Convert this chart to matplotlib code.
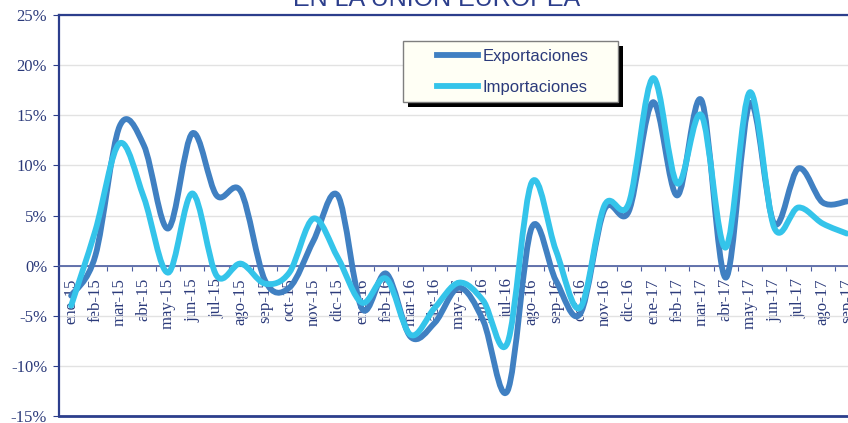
import matplotlib
matplotlib.use('Agg')
import matplotlib.pyplot as plt
from matplotlib.path import Path
from matplotlib.patches import PathPatch, Rectangle
from matplotlib.lines import Line2D

MESES = ['ene-15', 'feb-15', 'mar-15', 'abr-15', 'may-15', 'jun-15', 'jul-15', 'ago-15',
         'sep-15', 'oct-15', 'nov-15', 'dic-15',
         'ene-16', 'feb-16', 'mar-16', 'abr-16', 'may-16', 'jun-16', 'jul-16', 'ago-16',
         'sep-16', 'oct-16', 'nov-16', 'dic-16',
         'ene-17', 'feb-17', 'mar-17', 'abr-17', 'may-17', 'jun-17', 'jul-17', 'ago-17',
         'sep-17']
EXPORTACIONES = [-3.0, 1.0, 13.9, 12.0, 3.7, 13.2, 7.0, 7.4, -1.5, -2.2, 2.5, 7.0,
                 -4.3, -0.8, -7.1, -5.7, -2.2, -5.5, -12.5, 3.8, -1.5, -4.8, 5.6, 5.4,
                 16.3, 7.0, 16.5, -1.2, 16.2, 4.2, 9.7, 6.3, 6.4]
IMPORTACIONES = [-4.0, 3.5, 12.2, 6.8, -0.7, 7.2, -1.0, 0.2, -1.8, -0.7, 4.7, 0.8,
                 -3.7, -1.3, -6.9, -4.2, -1.7, -3.5, -7.7, 8.3, 1.5, -4.2, 6.0, 6.2,
                 18.7, 8.2, 15.0, 1.8, 17.3, 3.8, 5.8, 4.2, 3.2]
Y_TICKS = [-15, -10, -5, 0, 5, 10, 15, 20, 25]
SERIES = ['Exportaciones', 'Importaciones']

NAVY = '#2C3E8C'
TXT = '#2B3A7A'
C_EXP = '#4080C2'
C_IMP = '#34C4EA'

W, H = 848, 423
plt.rcParams['font.family'] = ['Liberation Serif', 'DejaVu Serif']


def smooth_path(ys):
    # excel-like smoothed line: catmull-rom turned into cubic bezier segments
    xs = list(range(len(ys)))
    pts = list(zip(xs, ys))
    verts = [pts[0]]
    codes = [Path.MOVETO]
    n = len(pts)
    for i in range(n - 1):
        p0 = pts[i - 1] if i > 0 else pts[i]
        p1 = pts[i]
        p2 = pts[i + 1]
        p3 = pts[i + 2] if i + 2 < n else pts[i + 1]
        c1 = (p1[0] + (p2[0] - p0[0]) / 6, p1[1] + (p2[1] - p0[1]) / 6)
        c2 = (p2[0] - (p3[0] - p1[0]) / 6, p2[1] - (p3[1] - p1[1]) / 6)
        verts += [c1, c2, p2]
        codes += [Path.CURVE4] * 3
    return Path(verts, codes)


fig = plt.figure(figsize=(W / 100, H / 100), dpi=100)
ax = fig.add_axes([59 / W, 7 / H, 800 / W, 401 / H])
ax.set_xlim(-0.5, len(MESES) - 0.5)
ax.set_ylim(-15, 25)

ax.yaxis.grid(True, color='#e2e2e2', lw=1)
ax.set_axisbelow(True)

for vals, col in [(EXPORTACIONES, C_EXP), (IMPORTACIONES, C_IMP)]:
    ax.add_patch(PathPatch(smooth_path(vals), fill=False, edgecolor=col, lw=4.2,
                           capstyle='round', joinstyle='round', zorder=3))

# spines
ax.spines['right'].set_visible(False)
ax.spines['left'].set_color(NAVY)
ax.spines['left'].set_linewidth(1.6)
ax.spines['top'].set_color(NAVY)
ax.spines['top'].set_linewidth(1.6)
ax.spines['bottom'].set_position(('data', 0))
ax.spines['bottom'].set_color('#4a5ca0')
ax.spines['bottom'].set_linewidth(1.2)
ax.axhline(-15, color=NAVY, lw=2, clip_on=False)

# x ticks between categories, labels at centers
ax.set_xticks([i + 0.5 for i in range(len(MESES) - 1)])
ax.set_xticklabels([])
ax.set_xticks(range(len(MESES)), minor=True)
ax.set_xticklabels(MESES, minor=True, rotation=90, fontsize=12, color=TXT)
ax.tick_params(axis='x', which='major', direction='out', length=3.5, color='#4a5ca0')
ax.tick_params(axis='x', which='minor', length=0, pad=9)

ax.set_yticks(Y_TICKS)
ax.set_yticklabels(['%d%%' % v for v in Y_TICKS], fontsize=12, color=TXT)
ax.tick_params(axis='y', direction='out', length=4.5, color=NAVY, pad=4)

# legend box with hard shadow
fig.add_artist(Rectangle((408 / W, 1 - 107 / H), 215 / W, 61 / H, transform=fig.transFigure,
                         facecolor='black', edgecolor='black', lw=0))
fig.add_artist(Rectangle((403 / W, 1 - 102 / H), 215 / W, 61 / H, transform=fig.transFigure,
                         facecolor='#FFFFF5', edgecolor='#7f7f7f', lw=1))
handles = [Line2D([], [], color=C_EXP, lw=4.2), Line2D([], [], color=C_IMP, lw=4.2)]
fig.legend(handles, SERIES, loc='upper left', bbox_to_anchor=(437 / W, 1 - 49 / H),
           frameon=False, prop={'family': 'Liberation Sans', 'size': 12}, labelcolor=TXT,
           handlelength=2.46, handletextpad=0.3, labelspacing=0.96, borderpad=0,
           borderaxespad=0)

fig.text(437 / W, 1 - 6 / H, 'EN LA UNIÓN EUROPEA', ha='center', va='baseline',
         fontsize=18, color=NAVY, family='Liberation Sans')

fig.savefig('out.png', dpi=100)
